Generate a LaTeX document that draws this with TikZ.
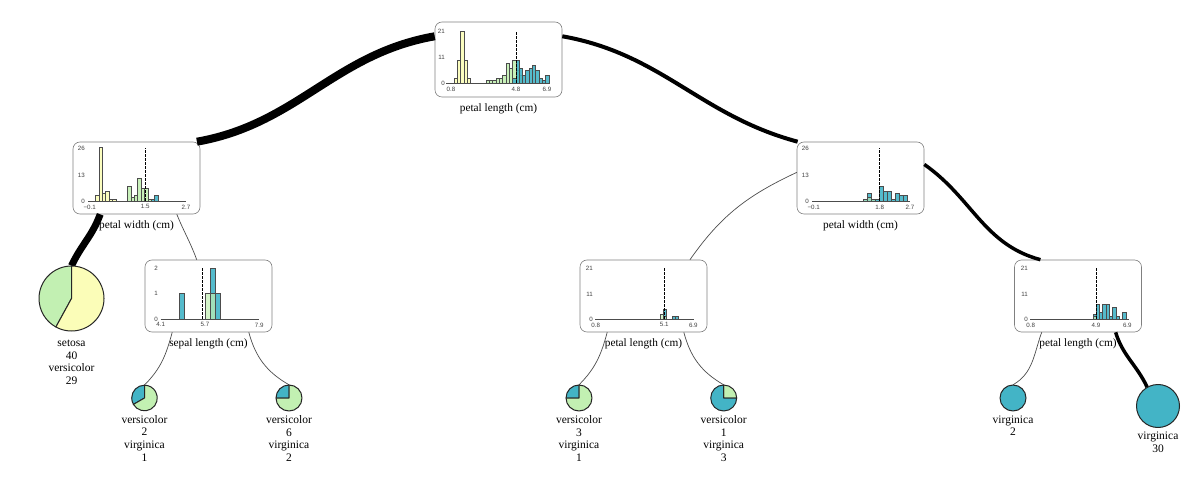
\documentclass[tikz,border=0pt]{standalone}
\usepackage{fontspec}
\setmainfont{Liberation Serif}
\newfontfamily\ticksfont{Liberation Sans}
\usetikzlibrary{positioning}

\definecolor{setosa}{HTML}{FBFDB8}
\definecolor{versicolor}{HTML}{C2F0B2}
\definecolor{virginica}{HTML}{43B4C6}

\tikzset{
  splitbox/.style={draw=black!50, line width=0.6pt, rounded corners=7pt, minimum width=127pt, inner sep=0pt},
  splitlbl/.style={font=\fontsize{11.3}{13}\selectfont, inner sep=1pt},
  leafdot/.style={circle, inner sep=0pt},
  leaftxt/.style={align=center, font=\fontsize{11.5}{12.7}\selectfont, inner sep=1pt},
  ticklbl/.style={font=\ticksfont\fontsize{6.2}{7}\selectfont, text=black!75, inner sep=1pt},
  hbarstyle/.style={draw=black!70, line width=0.4pt, fill opacity=0.9},
  axisline/.style={draw=black!70, line width=0.5pt},
  splitline/.style={line width=0.9pt, dash pattern=on 2.5pt off 1.5pt},
  thinedge/.style={draw=black!70, line width=0.7pt},
  pieedge/.style={draw=black!85, line width=1pt, line join=round}
}

\newcommand\pieslice[5]{\filldraw[fill=#5, pieedge] (#1.center) -- ++(#2:#4) arc[start angle=#2, end angle=#3, radius=#4] -- cycle;}

\begin{document}
\begin{tikzpicture}[x=1pt, y=1pt]
  \useasboundingbox (0,0) rectangle (1204,-502);

  \node[splitbox, minimum height=75pt] (root) at (498.5,-59.5) {};
  \node[splitbox, minimum height=72pt] (pwleft) at (136.5,-178) {};
  \node[splitbox, minimum height=72pt] (pwright) at (860.5,-178) {};
  \node[splitbox, minimum height=72pt] (sepal) at (208.5,-296) {};
  \node[splitbox, minimum height=72pt] (plmid) at (643.5,-296) {};
  \node[splitbox, minimum height=72pt] (plright) at (1078,-296) {};

  \node[splitlbl, below=5pt of root] (rootlbl) {petal length (cm)};
  \node[splitlbl, below=5pt of pwleft] (pwleftlbl) {petal width (cm)};
  \node[splitlbl, below=5pt of pwright] (pwrightlbl) {petal width (cm)};
  \node[splitlbl, below=5pt of sepal] (sepallbl) {sepal length (cm)};
  \node[splitlbl, below=5pt of plmid] (plmidlbl) {petal length (cm)};
  \node[splitlbl, below=5pt of plright] (plrightlbl) {petal length (cm)};

  % root histogram
  \foreach \bx/\bh in {454/2,457.3/9,460.6/21,463.9/9,467.2/2}
    \draw[hbarstyle, fill=setosa] (\bx,-83) rectangle ++(3.3,\bh*2.48);
  \foreach \bx/\bh in {486/1,489.3/1,492.6/1,495.9/2,499.2/2,502.5/3,505.8/8,509.1/6,512.4/9,515.7/5,519/3}
    \draw[hbarstyle, fill=versicolor] (\bx,-83) rectangle ++(3.3,\bh*2.48);
  \foreach \bx/\bh in {512.4/2,515.7/9,519/6,522.3/3,525.6/5,528.9/6,532.2/7,535.5/5,538.8/2,542.1/1,545.4/3}
    \draw[hbarstyle, fill=virginica] (\bx,-83) rectangle ++(3.3,\bh*2.48);
  \draw[axisline] (446,-83) -- (550,-83);
  \draw[splitline] (516,-83) -- (516,-31);
  \foreach \ty/\tl [count=\i] in {-31/21,-57/11,-83/0}
    \node[ticklbl, anchor=east] (rooty\i) at (446,\ty) {\tl};
  \foreach \tx/\tl [count=\i] in {451/0.8,516/4.8,547/6.9}
    \node[ticklbl, anchor=north] (rootx\i) at (\tx,-85.5) {\tl};

  % left petal width histogram
  \foreach \bx/\bh in {95.3/3,98.7/26,102.1/4,105.5/5,108.9/1,112.3/1}
    \draw[hbarstyle, fill=setosa] (\bx,-201) rectangle ++(3.4,\bh*2.05);
  \foreach \bx/\bh in {127.3/7,130.7/2,134.1/3,137.5/11,140.9/6,144.3/6,147.7/1}
    \draw[hbarstyle, fill=versicolor] (\bx,-201) rectangle ++(3.4,\bh*2.05);
  \foreach \bx/\bh in {151.1/1,154.5/3}
    \draw[hbarstyle, fill=virginica] (\bx,-201) rectangle ++(3.4,\bh*2.05);
  \draw[axisline] (88,-201) -- (186,-201);
  \draw[splitline] (145.3,-201) -- (145.3,-148);
  \foreach \ty/\tl [count=\i] in {-148/26,-175/13,-201/0}
    \node[ticklbl, anchor=east] (pwlefty\i) at (86,\ty) {\tl};
  \foreach \tx/\tl [count=\i] in {89.7/−0.1,145.3/1.5,186/2.7}
    \node[ticklbl, anchor=north] (pwleftx\i) at (\tx,-203.5) {\tl};

  % right petal width histogram
  \foreach \bx/\bh in {863.3/1,867.3/4,871.3/1,875.3/1,879.3/7,883.3/5,887.3/5,891.3/1,895.3/4,899.3/3,903.3/3}
    \draw[hbarstyle, fill=virginica] (\bx,-201) rectangle ++(4,\bh*2.05);
  \foreach \bx/\bh in {863.3/1,867.3/2,871.3/1}
    \draw[hbarstyle, fill=versicolor, fill opacity=0.6] (\bx,-201) rectangle ++(4,\bh*2.05);
  \draw[axisline] (812,-201) -- (910,-201);
  \draw[splitline] (879.7,-201) -- (879.7,-148);
  \foreach \ty/\tl [count=\i] in {-148/26,-175/13,-201/0}
    \node[ticklbl, anchor=east] (pwrighty\i) at (810,\ty) {\tl};
  \foreach \tx/\tl [count=\i] in {813.7/−0.1,879.7/1.8,910/2.7}
    \node[ticklbl, anchor=north] (pwrightx\i) at (\tx,-203.5) {\tl};

  % sepal length histogram
  \foreach \bx/\bh in {179.3/1,210/2,215/1}
    \draw[hbarstyle, fill=virginica] (\bx,-319) rectangle ++(5,\bh*25.3);
  \foreach \bx/\bh in {205/1,210/1}
    \draw[hbarstyle, fill=versicolor, fill opacity=0.7] (\bx,-319) rectangle ++(5,\bh*25.3);
  \draw[axisline] (160.7,-319) -- (259.3,-319);
  \draw[splitline] (202.7,-319) -- (202.7,-268);
  \foreach \ty/\tl [count=\i] in {-268.3/2,-293.5/1,-319/0}
    \node[ticklbl, anchor=east] (sepaly\i) at (159,\ty) {\tl};
  \foreach \tx/\tl [count=\i] in {160.7/4.1,205/5.7,259.3/7.9}
    \node[ticklbl, anchor=north] (sepalx\i) at (\tx,-321.5) {\tl};

  % middle petal length histogram
  \foreach \bx/\bh in {663/4,671.7/1,675/1}
    \draw[hbarstyle, fill=virginica] (\bx,-319) rectangle ++(3.3,\bh*2.41);
  \foreach \bx/\bh in {659.7/2,663/1}
    \draw[hbarstyle, fill=versicolor, fill opacity=0.7] (\bx,-319) rectangle ++(3.3,\bh*2.41);
  \draw[axisline] (595,-319) -- (694.3,-319);
  \draw[splitline] (664.3,-319) -- (664.3,-268);
  \foreach \ty/\tl [count=\i] in {-268.3/21,-294/11,-319/0}
    \node[ticklbl, anchor=east] (plmidy\i) at (594,\ty) {\tl};
  \foreach \tx/\tl [count=\i] in {595.7/0.8,664.3/5.1,693.3/6.9}
    \node[ticklbl, anchor=north] (plmidx\i) at (\tx,-321.5) {\tl};

  % right petal length histogram
  \foreach \bx/\bh in {1092.7/2,1096/6,1099.3/3,1102.6/6,1105.9/6,1109.2/1,1112.5/5,1115.8/1,1122.4/3}
    \draw[hbarstyle, fill=virginica] (\bx,-319) rectangle ++(3.3,\bh*2.41);
  \draw[hbarstyle, fill=versicolor, fill opacity=0.7] (1092.7,-319) rectangle ++(3.3,2.41);
  \draw[axisline] (1030,-319) -- (1129.3,-319);
  \draw[splitline] (1096,-319) -- (1096,-268);
  \foreach \ty/\tl [count=\i] in {-268.3/21,-294/11,-319/0}
    \node[ticklbl, anchor=east] (plrighty\i) at (1029,\ty) {\tl};
  \foreach \tx/\tl [count=\i] in {1030.7/0.8,1096/4.9,1127.3/6.9}
    \node[ticklbl, anchor=north] (plrightx\i) at (\tx,-321.5) {\tl};

  % leaves
  \node[leafdot, minimum size=65pt] (setleaf) at (71.5,-298.5) {};
  \node[leafdot, minimum size=25.6pt] (leafA) at (144.5,-398) {};
  \node[leafdot, minimum size=26pt] (leafB) at (289,-398) {};
  \node[leafdot, minimum size=26pt] (leafC) at (579,-398) {};
  \node[leafdot, minimum size=26pt] (leafD) at (723.7,-398) {};
  \node[leafdot, minimum size=26pt] (leafE) at (1013,-398) {};
  \node[leafdot, minimum size=43pt] (leafF) at (1158,-406) {};

  % edges
  \draw[line width=8pt] (root.160) to[out=190, in=10] (pwleft.31);
  \draw[line width=4pt] (root.20) to[out=-10, in=165] (pwright.150);
  \draw[line width=7pt] (pwleft.-135) to[out=-110, in=65] (setleaf.north);
  \draw[thinedge] (pwleft.-42) to[out=-68, in=110] (sepal.108);
  \draw[thinedge] (pwright.175) to[out=205, in=55] (plmid.38);
  \draw[line width=3.5pt] (pwright.12) to[out=-35, in=165] (plright.136);
  \draw[line width=3.5pt] (plright.-44) to[out=-73, in=115] (leafF.120);
  \draw[thinedge] (plright.-135) to[out=-110, in=30] (leafE.north);
  \draw[thinedge] (sepal.-135) to[out=-105, in=45] (leafA.north);
  \draw[thinedge] (sepal.-42) to[out=-75, in=150] (leafB.north);
  \draw[thinedge] (plmid.-135) to[out=-105, in=45] (leafC.north);
  \draw[thinedge] (plmid.-42) to[out=-75, in=150] (leafD.north);

  \pieslice{setleaf}{90}{241.3}{32.5}{versicolor}
  \pieslice{setleaf}{241.3}{450}{32.5}{setosa}
  \pieslice{leafA}{90}{210}{12.8}{virginica}
  \pieslice{leafA}{210}{450}{12.8}{versicolor}
  \pieslice{leafB}{90}{180}{13}{virginica}
  \pieslice{leafB}{180}{450}{13}{versicolor}
  \pieslice{leafC}{90}{180}{13}{virginica}
  \pieslice{leafC}{180}{450}{13}{versicolor}
  \pieslice{leafD}{0}{90}{13}{versicolor}
  \pieslice{leafD}{90}{360}{13}{virginica}
  \filldraw[fill=virginica, pieedge] (leafE.center) circle[radius=13];
  \filldraw[fill=virginica, pieedge] (leafF.center) circle[radius=21.5];

  \node[leaftxt, below=7.5pt of setleaf] (setleaftxt) {setosa\\40\\versicolor\\29};
  \node[leaftxt, below=3pt of leafA] (leafAtxt) {versicolor\\2\\virginica\\1};
  \node[leaftxt, below=3pt of leafB] (leafBtxt) {versicolor\\6\\virginica\\2};
  \node[leaftxt, below=3pt of leafC] (leafCtxt) {versicolor\\3\\virginica\\1};
  \node[leaftxt, below=3pt of leafD] (leafDtxt) {versicolor\\1\\virginica\\3};
  \node[leaftxt, below=3pt of leafE] (leafEtxt) {virginica\\2};
  \node[leaftxt, below=3pt of leafF] (leafFtxt) {virginica\\30};
\end{tikzpicture}
\end{document}
